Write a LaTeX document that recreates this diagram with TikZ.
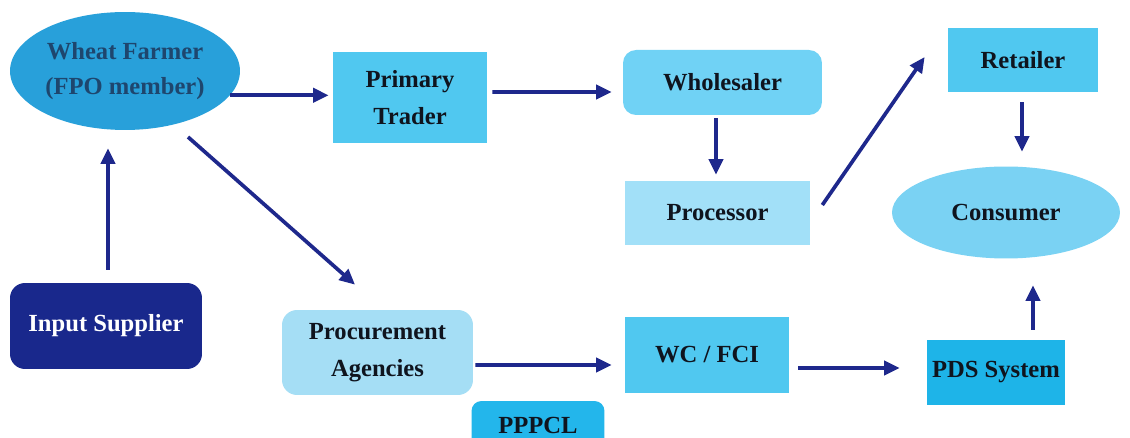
\documentclass[tikz,border=0pt]{standalone}
\usepackage{fontspec}
\setmainfont{Liberation Serif}
\usetikzlibrary{shapes.geometric,arrows.meta}

\definecolor{farmerblue}{RGB}{40,160,218}
\definecolor{midblue}{RGB}{80,200,240}
\definecolor{wholeblue}{RGB}{112,210,245}
\definecolor{paleblue}{RGB}{162,224,248}
\definecolor{consblue}{RGB}{122,210,243}
\definecolor{procblue}{RGB}{165,222,245}
\definecolor{pppblue}{RGB}{35,182,235}
\definecolor{pdsblue}{RGB}{30,180,232}
\definecolor{navy}{RGB}{25,40,140}
\definecolor{arrowblue}{RGB}{30,40,140}
\definecolor{farmertext}{RGB}{30,70,110}
\definecolor{darktext}{RGB}{15,20,30}

\tikzset{
  lbl/.style={font=\bfseries\fontsize{14}{20}\selectfont, text=darktext, align=center, inner sep=0pt},
  sqbox/.style={lbl, rectangle},
  rbox/.style={lbl, rectangle, rounded corners=0.26cm},
  oval/.style={lbl, ellipse},
  arr/.style={draw=arrowblue, line width=2.1pt, -{Triangle[length=3.1mm,width=2.8mm]}}
}

\begin{document}
\begin{tikzpicture}[x=0.02cm,y=-0.02cm]
\clip (0,0) rectangle (1130,438);
\fill[white] (0,0) rectangle (1130,438);

% nodes
\node[oval, fill=farmerblue, text=farmertext, minimum width=4.6cm, minimum height=2.36cm] (farmer) at (125,71) {Wheat Farmer\\(FPO member)};
\node[sqbox, fill=midblue, minimum width=3.08cm, minimum height=1.82cm, font=\bfseries\fontsize{14}{21}\selectfont] (trader) at (410,97.5) {Primary\\Trader};
\node[rbox, fill=wholeblue, minimum width=3.98cm, minimum height=1.3cm] (wholesaler) at (722.5,82.5) {Wholesaler};
\node[sqbox, fill=midblue, minimum width=3.0cm, minimum height=1.28cm] (retailer) at (1023,60) {Retailer};
\node[sqbox, fill=paleblue, minimum width=3.7cm, minimum height=1.28cm] (processor) at (717.5,213) {Processor};
\node[oval, fill=consblue, minimum width=4.56cm, minimum height=1.84cm] (consumer) at (1006,212.5) {Consumer};
\node[rbox, fill=navy, text=white, minimum width=3.84cm, minimum height=1.72cm, rounded corners=0.3cm] (input) at (106,326) {Input Supplier};
\node[rbox, fill=procblue, minimum width=3.82cm, minimum height=1.7cm, rounded corners=0.3cm, font=\bfseries\fontsize{14}{21}\selectfont] (procure) at (377.5,352.5) {Procurement\\Agencies};
\node[rbox, fill=pppblue, minimum width=2.66cm, minimum height=0.96cm, rounded corners=0.2cm] (pppcl) at (538,425) {PPPCL};
\node[sqbox, fill=midblue, minimum width=3.28cm, minimum height=1.52cm] (wcfci) at (707,355) {WC / FCI};
\node[sqbox, fill=pdsblue, minimum width=2.76cm, minimum height=1.3cm] (pds) at (996,372.5) {PDS System};

% connectors
\draw[arr] (farmer.-13) -- ([shift={(-4,0)}]farmer.-13 -| trader.west);
\draw[arr] ([shift={(5,-5.5)}]trader.east) -- ([shift={(-11,9.5)}]wholesaler.west);
\draw[arr] ([shift={(-6.5,3)}]wholesaler.south) -- ([shift={(-1.5,-6)}]processor.north);
\draw[arr] ([shift={(12,-8)}]processor.east) -- ([shift={(-23,-3)}]retailer.west);
\draw[arr] ([shift={(-1,10)}]retailer.south) -- ([shift={(16,-14.5)}]consumer.north);
\draw[arr] ([shift={(63,66)}]farmer.center) -- ([shift={(-22.5,-25)}]procure.north);
\draw[arr] ([shift={(2,-13)}]input.north) -- ([shift={(-17,18)}]farmer.south);
\draw[arr] ([shift={(2,12.5)}]procure.east) -- ([shift={(-13,10)}]wcfci.west);
\draw[arr] ([shift={(9,13)}]wcfci.east) -- ([shift={(-27,-4.5)}]pds.west);
\draw[arr] ([shift={(37,-10)}]pds.north) -- ([shift={(27,26.5)}]consumer.south);
\end{tikzpicture}
\end{document}
